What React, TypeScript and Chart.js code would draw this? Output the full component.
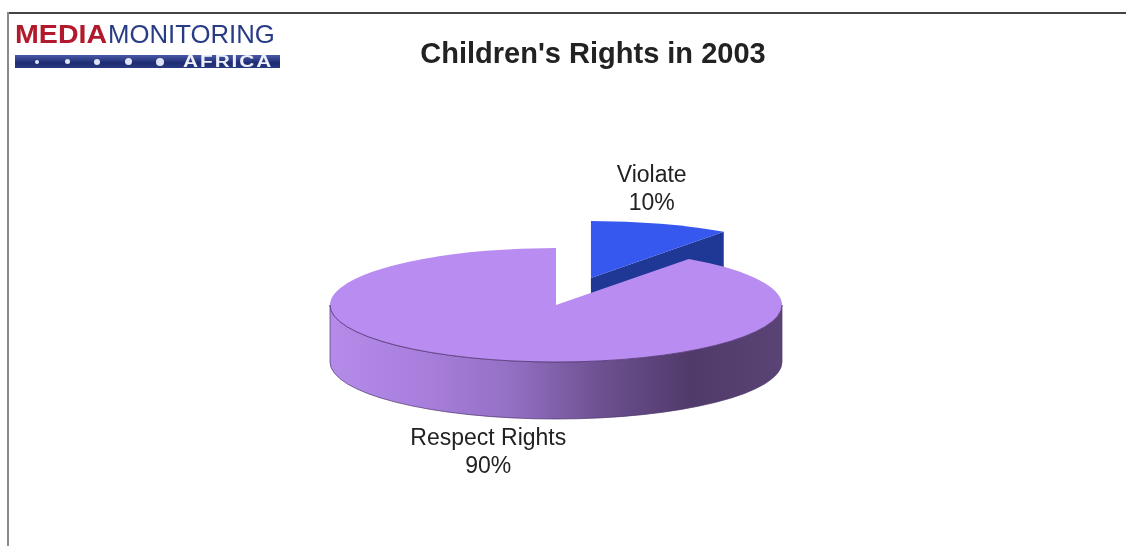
import { useEffect, useRef } from 'react';
import { Chart, registerables } from 'chart.js';

Chart.register(...registerables);

// ---- data ----
const categories = ['Violate', 'Respect Rights'];
const shares = [10, 90];
const exploded = [true, false];

// ---- styles ----
const TITLE = "Children's Rights in 2003";
const topColors = ['#3658ee', '#b88cf0'];
const sideColors = ['#1f3896', '#6a4e8c'];
const wallStops: string[][] = [
  ['#2a4ab8', '#1a2f80'],
  ['#b48be9', '#a97fdd', '#9470c4', '#6d5090', '#4f3a6a', '#5a4475'],
];
const RADIUS = 226;
const TILT = 57 / 226;
const DEPTH = 57;
const EXPLODE = 113;
const FONT = '"Liberation Sans", Arial, Helvetica, sans-serif';

const pie3d = {
  id: 'pie3d',
  afterDatasetsUpdate(chart: any) {
    const meta = chart.getDatasetMeta(0);
    meta.data.forEach((arc: any, i: number) => {
      if (!exploded[i]) return;
      const m = (arc.startAngle + arc.endAngle) / 2;
      arc.x += Math.cos(m) * EXPLODE;
      arc.y += Math.sin(m) * EXPLODE;
    });
  },
  beforeDatasetsDraw(chart: any) {
    const ctx = chart.ctx as CanvasRenderingContext2D;
    const { top, bottom } = chart.chartArea;
    const cy = (top + bottom) / 2;
    const sy = (y: number) => cy + (y - cy) * TILT;
    const meta = chart.getDatasetMeta(0);
    meta.data.forEach((arc: any, i: number) => {
      const { x, y, startAngle: s, endAngle: e, outerRadius: R } = arc;
      const Y = sy(y);
      // radial faces facing the viewer
      const faces: number[] = [];
      if (Math.cos(s) < -1e-6) faces.push(s);
      if (Math.cos(e) > 1e-6) faces.push(e);
      faces.forEach((a) => {
        const px = x + R * Math.cos(a);
        const py = Y + R * TILT * Math.sin(a);
        ctx.beginPath();
        ctx.moveTo(x, Y);
        ctx.lineTo(px, py);
        ctx.lineTo(px, py + DEPTH);
        ctx.lineTo(x, Y + DEPTH);
        ctx.closePath();
        ctx.fillStyle = sideColors[i];
        ctx.fill();
      });
      // outer curved wall (front half only)
      for (let k = -1; k <= 1; k++) {
        const a0 = Math.max(s, 2 * Math.PI * k);
        const a1 = Math.min(e, 2 * Math.PI * k + Math.PI);
        if (a1 - a0 < 1e-6) continue;
        ctx.beginPath();
        ctx.ellipse(x, Y, R, R * TILT, 0, a0, a1);
        ctx.ellipse(x, Y + DEPTH, R, R * TILT, 0, a1, a0, true);
        ctx.closePath();
        const g = ctx.createLinearGradient(x - R, 0, x + R, 0);
        const stops = wallStops[i];
        stops.forEach((c, j) => g.addColorStop(j / (stops.length - 1), c));
        ctx.fillStyle = g;
        ctx.fill();
        ctx.strokeStyle = 'rgba(80,55,110,0.7)';
        ctx.lineWidth = 1;
        ctx.stroke();
      }
    });
    ctx.save();
    ctx.translate(0, cy);
    ctx.scale(1, TILT);
    ctx.translate(0, -cy);
  },
  afterDatasetsDraw(chart: any) {
    const ctx = chart.ctx as CanvasRenderingContext2D;
    ctx.restore();
    const { top, bottom } = chart.chartArea;
    const cy = (top + bottom) / 2;
    const sy = (y: number) => cy + (y - cy) * TILT;
    const meta = chart.getDatasetMeta(0);
    // front edge outline of top faces
    meta.data.forEach((arc: any) => {
      const { x, y, startAngle: s, endAngle: e, outerRadius: R } = arc;
      const Y = sy(y);
      for (let k = -1; k <= 1; k++) {
        const a0 = Math.max(s, 2 * Math.PI * k);
        const a1 = Math.min(e, 2 * Math.PI * k + Math.PI);
        if (a1 - a0 < 1e-6) continue;
        ctx.beginPath();
        ctx.ellipse(x, Y, R, R * TILT, 0, a0, a1);
        ctx.strokeStyle = 'rgba(95,65,130,0.9)';
        ctx.lineWidth = 1;
        ctx.stroke();
      }
    });
    // labels
    ctx.save();
    ctx.font = `23px ${FONT}`;
    ctx.fillStyle = '#222';
    ctx.textAlign = 'center';
    ctx.textBaseline = 'alphabetic';
    meta.data.forEach((arc: any, i: number) => {
      const { x, y, startAngle: s, endAngle: e, outerRadius: R } = arc;
      const m = (s + e) / 2;
      const front = Math.sin(m) > 0;
      const lx = x + R * (front ? 0.97 : 0.87) * Math.cos(m);
      let ly = sy(y) + R * TILT * Math.sin(m) + (front ? DEPTH : 0);
      ly += front ? 35 : -36;
      ctx.fillText(categories[i], lx, ly - 6);
      ctx.fillText(`${shares[i]}%`, lx, ly + 22);
    });
    ctx.restore();
  },
  afterDraw(chart: any) {
    const ctx = chart.ctx as CanvasRenderingContext2D;
    ctx.save();
    ctx.fillStyle = '#444';
    ctx.fillRect(7, 12, chart.width - 7, 2);
    ctx.fillStyle = '#8a8a8a';
    ctx.fillRect(7, 12, 2, chart.height - 12);
    ctx.font = `bold 29px ${FONT}`;
    ctx.fillStyle = '#222';
    ctx.textAlign = 'center';
    ctx.textBaseline = 'alphabetic';
    ctx.fillText(TITLE, 593, 63);
    ctx.restore();
  },
};

export default function App() {
  const ref = useRef<HTMLCanvasElement | null>(null);
  useEffect(() => {
    if (!ref.current) return;
    const chart = new Chart(ref.current, {
      type: 'pie',
      data: {
        labels: categories,
        datasets: [
          {
            data: shares,
            backgroundColor: topColors,
            borderWidth: 0,
            radius: RADIUS,
            clip: false,
          } as any,
        ],
      },
      options: {
        animation: false,
        responsive: false,
        events: [],
        layout: { padding: { left: 0, right: 14, top: 64, bottom: 0 } },
        plugins: {
          legend: { display: false },
          tooltip: { enabled: false },
          title: { display: false },
        },
      } as any,
      plugins: [pie3d],
    });
    return () => chart.destroy();
  }, []);

  const dots = [
    { x: 22, r: 2 },
    { x: 52, r: 2.5 },
    { x: 82, r: 3 },
    { x: 113, r: 3.5 },
    { x: 145, r: 4 },
  ];

  return (
    <div style={{ position: 'fixed', left: 0, top: 0, width: 1126, height: 546, background: '#fff', overflow: 'hidden' }}>
      <canvas ref={ref} width={1126} height={546} style={{ position: 'absolute', left: 0, top: 0 }} />
      <span
        style={{
          position: 'absolute',
          left: 15,
          top: 21,
          fontFamily: FONT,
          fontSize: 26,
          lineHeight: 1,
          whiteSpace: 'nowrap',
          color: '#b3192c',
          fontWeight: 'bold',
          transform: 'scaleX(1.1)',
          transformOrigin: 'left center',
        }}
      >
        MEDIA
      </span>
      <span
        style={{
          position: 'absolute',
          left: 108,
          top: 21,
          fontFamily: FONT,
          fontSize: 26,
          lineHeight: 1,
          whiteSpace: 'nowrap',
          color: '#283c85',
          transform: 'scaleX(0.99)',
          transformOrigin: 'left center',
        }}
      >
        MONITORING
      </span>
      <div
        style={{
          position: 'absolute',
          left: 15,
          top: 55,
          width: 265,
          height: 13,
          background: 'linear-gradient(#4a5aa8, #1e2d72 60%, #2a3a80)',
          overflow: 'hidden',
        }}
      >
        {dots.map((d, i) => (
          <div
            key={i}
            style={{
              position: 'absolute',
              left: d.x - d.r,
              top: 6.5 - d.r,
              width: d.r * 2,
              height: d.r * 2,
              borderRadius: '50%',
              background: '#dfe4f5',
            }}
          />
        ))}
        <span
          style={{
            position: 'absolute',
            left: 168,
            top: -1,
            fontFamily: FONT,
            fontWeight: 'bold',
            fontSize: 16,
            lineHeight: '15px',
            letterSpacing: 1.5,
            color: '#eef0fb',
            transform: 'scaleX(1.3)',
            transformOrigin: 'left center',
          }}
        >
          AFRICA
        </span>
      </div>
    </div>
  );
}
